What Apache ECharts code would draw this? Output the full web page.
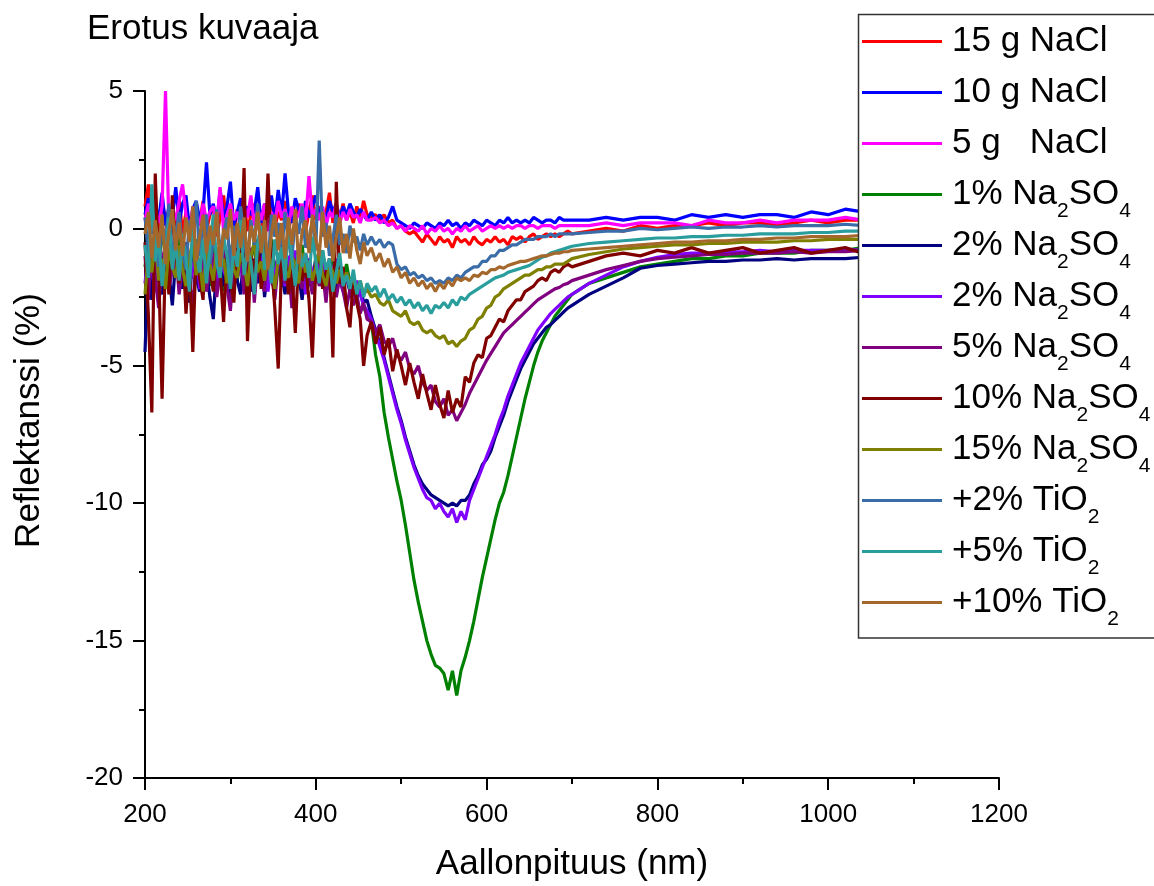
<!DOCTYPE html>
<html>
<head>
<meta charset="utf-8">
<title>Erotus kuvaaja</title>
<script src="https://cdn.jsdelivr.net/npm/echarts@6/dist/echarts.min.js"></script>
<style>
  html, body { margin: 0; padding: 0; background: #fff; overflow: hidden; }
  #chart { width: 1154px; height: 886px; }
</style>
</head>
<body>
<div id="chart"></div>
<script>
// aallonpituus (nm) - tiheämpi näytteistys kohinaiselle alueelle
const wavelengths = [
  200,204,208,212,216,220,224,228,232,236,
  240,244,248,252,256,260,264,268,272,276,
  280,284,288,292,296,300,304,308,312,316,
  320,324,328,332,336,340,344,348,352,356,
  360,364,368,372,376,380,384,388,392,396,
  400,404,408,412,416,420,424,428,432,436,
  440,444,448,452,456,460,
  465,470,475,480,485,490,495,500,505,510,
  515,520,525,530,535,540,545,550,555,560,
  565,570,575,580,585,590,595,600,605,610,
  615,620,625,630,635,640,645,650,655,660,
  665,670,675,680,685,690,695,700,
  720,740,760,780,800,820,840,860,880,900,
  920,940,960,980,1000,1020,1040,1060,1080,1100
];

// reflektanssin erotus (%)
const nacl15 = [
  0.8,1.6,0.2,1.2,-0.3,0.9,0.4,-0.5,0.7,0.1,
  1.1,-0.2,0.6,0.3,-0.4,0.9,0.2,1.0,-0.1,0.5,
  0.8,-0.3,0.4,1.2,0.0,0.6,-0.2,0.7,0.3,1.0,
  -0.1,0.5,0.9,0.2,-0.3,0.8,0.4,1.1,0.0,0.6,
  0.3,1.0,-0.2,0.7,0.2,0.9,0.4,-0.1,0.6,1.2,
  0.3,0.8,0.1,0.6,1.3,0.2,0.7,0.4,0.9,0.3,
  0.6,0.2,0.8,0.4,1.0,0.5,
  0.4,0.5,0.3,0.5,0.2,0.3,0.0,0.1,-0.1,-0.2,
  -0.1,-0.3,-0.5,-0.2,-0.4,-0.6,-0.3,-0.5,-0.4,-0.7,
  -0.3,-0.5,-0.4,-0.6,-0.3,-0.5,-0.6,-0.4,-0.5,-0.3,
  -0.5,-0.4,-0.6,-0.3,-0.4,-0.3,-0.5,-0.3,-0.2,-0.4,
  -0.3,-0.2,-0.3,-0.2,-0.3,-0.2,-0.1,-0.2,
  -0.1,0.0,-0.1,0.1,0.0,0.1,0.1,0.2,0.1,0.2,
  0.2,0.1,0.2,0.3,0.2,0.3,0.3,0.2,0.3,0.3
];
const nacl10 = [
  0.5,1.1,-0.2,0.9,0.3,1.3,0.1,0.8,0.4,1.5,
  0.2,0.9,1.2,0.0,0.7,1.0,0.3,0.6,2.4,0.5,
  0.9,0.2,1.4,0.4,0.8,1.7,0.1,0.6,1.1,0.3,
  0.8,0.5,0.6,1.5,0.2,0.9,0.4,1.2,0.3,1.4,
  0.5,2.0,0.6,0.2,1.1,0.7,0.3,1.0,0.4,0.8,
  1.2,0.5,0.7,0.3,1.0,0.6,0.9,0.4,0.8,0.5,
  0.9,0.6,0.4,0.7,0.5,0.3,
  0.6,0.3,0.5,0.2,0.4,0.8,0.3,0.2,0.1,0.0,
  0.2,0.1,0.0,0.2,0.1,0.0,0.2,0.1,0.3,0.1,
  0.2,0.0,0.2,0.1,0.3,0.2,0.1,0.3,0.2,0.1,
  0.3,0.2,0.4,0.2,0.3,0.2,0.3,0.2,0.4,0.3,
  0.2,0.3,0.3,0.2,0.4,0.3,0.3,0.3,
  0.3,0.4,0.3,0.4,0.4,0.3,0.5,0.4,0.5,0.4,
  0.5,0.5,0.4,0.6,0.5,0.7,0.6,0.6,0.7,0.6
];
const nacl5 = [
  0.3,0.9,-0.1,0.6,0.2,0.8,5.0,0.1,0.7,0.3,
  1.0,1.6,0.5,-0.2,0.8,0.4,0.1,0.9,0.3,0.6,
  0.8,0.2,1.5,-0.1,0.5,0.9,0.3,0.6,0.0,0.8,
  0.4,1.2,0.1,0.7,0.3,0.9,-0.1,0.6,0.2,1.0,
  0.4,0.7,0.1,0.8,0.3,0.5,0.9,0.2,1.9,0.4,
  0.7,0.3,0.8,0.1,0.6,0.4,0.9,0.2,0.6,0.3,
  0.7,0.4,0.5,0.2,0.6,0.3,
  0.3,0.4,0.2,0.3,0.1,0.2,0.0,0.1,-0.1,0.1,
  0.0,-0.1,0.1,-0.2,0.0,-0.1,0.1,-0.1,0.0,-0.2,
  0.0,-0.1,0.1,-0.1,0.0,0.1,-0.1,0.0,0.1,0.0,
  0.1,0.0,0.1,0.0,0.1,0.1,0.0,0.1,0.1,0.0,
  0.1,0.1,0.1,0.0,0.1,0.1,0.1,0.1,
  0.1,0.2,0.1,0.2,0.2,0.2,0.1,0.3,0.2,0.2,
  0.3,0.2,0.3,0.3,0.3,0.4,0.3,0.4,0.4,0.4
];
const sulfate1 = [
  -1.4,-0.3,-2.1,-0.8,-1.6,0.2,-1.2,-2.0,-0.6,-1.4,
  -0.2,-1.7,-0.9,-2.2,-1.0,-0.4,-1.8,-0.7,-1.3,-2.1,
  -0.5,-1.5,-1.0,-2.3,-0.8,-1.6,-0.3,-1.9,-1.1,-0.6,
  -2.0,-1.2,-0.5,-1.7,-0.9,-2.2,-1.1,-0.4,-1.6,-1.0,
  -2.1,-0.7,-1.4,-0.9,-2.0,-1.3,-0.6,-1.8,-1.1,-2.2,
  -1.0,-1.6,-0.8,-2.0,-1.4,-1.1,-2.3,-1.5,-1.9,-1.3,
  -2.0,-1.7,-2.6,-2.2,-2.9,-3.1,
  -3.4,-4.6,-5.4,-6.7,-7.6,-8.4,-9.2,-9.9,-10.8,-11.8,
  -12.8,-13.6,-14.3,-15.0,-15.5,-15.9,-16.0,-16.2,-16.8,-16.1,
  -17.0,-16.1,-15.6,-15.0,-14.3,-13.5,-12.7,-12.0,-11.3,-10.6,
  -10.0,-9.6,-9.0,-8.3,-7.6,-6.9,-6.2,-5.6,-5.0,-4.5,
  -4.1,-3.8,-3.5,-3.2,-3.0,-2.8,-2.6,-2.4,
  -2.0,-1.8,-1.6,-1.4,-1.3,-1.2,-1.1,-1.1,-1.0,-1.0,
  -0.9,-0.9,-0.9,-0.8,-0.8,-0.8,-0.7,-0.7,-0.7,-0.7
];
const sulfate2a = [
  -4.5,-1.2,-2.6,-0.7,-1.9,-2.4,-0.9,-1.6,-2.8,-1.1,
  -0.6,-2.2,-1.4,-2.7,-0.9,-1.8,-2.3,-1.0,-1.5,-2.5,
  -3.3,-1.2,-0.8,-2.1,-1.6,-2.6,-1.0,-1.9,-2.4,-0.7,
  -1.7,-2.3,-1.1,-2.0,-0.8,-2.5,-1.4,-1.9,-2.2,-1.0,
  -1.6,-2.4,-1.2,-0.9,-2.1,-1.7,-2.6,-1.3,-1.8,-2.3,
  -1.1,-2.0,-1.5,-2.4,-1.2,-1.9,-2.2,-1.6,-2.0,-1.8,
  -2.3,-1.9,-2.5,-2.1,-2.7,-2.6,
  -3.2,-3.7,-4.2,-4.7,-5.3,-5.9,-6.5,-7.0,-7.6,-8.1,
  -8.6,-9.0,-9.3,-9.5,-9.7,-9.8,-9.9,-10.0,-10.1,-10.0,
  -10.1,-9.9,-9.9,-9.7,-9.3,-9.0,-8.6,-8.4,-8.1,-7.6,
  -7.2,-6.8,-6.3,-5.9,-5.5,-5.1,-4.8,-4.5,-4.2,-4.0,
  -3.8,-3.6,-3.5,-3.35,-3.2,-3.05,-2.9,-2.8,
  -2.4,-2.1,-1.8,-1.45,-1.35,-1.3,-1.25,-1.2,-1.2,-1.15,
  -1.15,-1.1,-1.15,-1.1,-1.1,-1.1,-1.05,-1.05,-1.0,-1.0
];
const sulfate2b = [
  -2.0,-0.8,-1.5,-2.3,-0.5,-1.7,-1.1,-2.1,-0.7,-1.4,
  -1.9,-0.6,-1.2,-2.0,-1.5,-0.8,-2.2,-1.3,-0.9,-1.7,
  -1.1,-2.1,-0.7,-1.5,-1.9,-1.0,-0.5,-1.8,-1.3,-2.2,
  -0.9,-1.6,-2.0,-1.1,-1.4,-0.7,-2.3,-1.2,-1.8,-0.9,
  -1.5,-2.1,-1.0,-1.7,-0.8,-2.0,-1.3,-2.4,-1.1,-1.6,
  -2.0,-1.4,-0.9,-1.8,-2.2,-1.5,-1.1,-1.9,-2.3,-1.6,
  -2.1,-2.5,-1.9,-2.4,-2.8,-3.0,
  -3.3,-3.8,-4.3,-4.8,-5.4,-6.0,-6.6,-7.1,-7.7,-8.2,
  -8.7,-9.1,-9.5,-9.8,-9.9,-10.2,-10.0,-10.3,-10.5,-10.2,
  -10.7,-10.3,-10.6,-9.9,-9.5,-9.1,-8.7,-8.3,-7.9,-7.5,
  -7.0,-6.6,-6.1,-5.7,-5.3,-4.9,-4.6,-4.3,-4.0,-3.7,
  -3.5,-3.3,-3.1,-2.95,-2.8,-2.65,-2.5,-2.4,
  -2.0,-1.7,-1.4,-1.2,-1.05,-0.95,-0.9,-0.9,-0.85,-0.85,
  -0.8,-0.85,-0.8,-0.8,-0.8,-0.75,-0.8,-0.75,-0.75,-0.75
];
const sulfate5 = [
  -1.0,-2.6,-0.4,-1.8,-2.9,-1.2,-0.6,-2.2,-1.5,-0.8,
  -2.4,-1.3,-0.5,-2.0,-2.8,-1.1,-1.7,-0.7,-2.3,-1.4,
  -0.9,-2.5,-1.6,-0.6,-2.1,-3.0,-1.2,-1.8,-0.8,-2.4,
  -1.5,-0.7,-2.7,-1.1,-1.9,-2.3,-0.9,-1.6,-2.6,-1.3,
  -0.8,-2.0,-1.4,-2.9,-1.1,-1.7,-2.2,-0.9,-1.5,-2.4,
  -1.2,-2.1,-1.6,-2.7,-1.3,-2.0,-2.5,-1.8,-2.3,-2.9,
  -2.2,-2.8,-2.4,-3.1,-2.7,-3.3,
  -3.4,-3.8,-3.5,-4.1,-4.3,-4.0,-4.6,-4.8,-4.5,-5.1,
  -5.3,-5.0,-5.6,-5.9,-5.7,-6.3,-6.5,-6.2,-6.8,-6.6,
  -7.0,-6.7,-6.4,-6.0,-5.7,-5.4,-5.1,-4.8,-4.55,-4.3,
  -4.05,-3.8,-3.65,-3.5,-3.35,-3.2,-3.05,-2.9,-2.75,-2.6,
  -2.5,-2.4,-2.3,-2.2,-2.15,-2.05,-2.0,-1.9,
  -1.7,-1.5,-1.35,-1.2,-1.1,-1.05,-1.0,-0.95,-0.95,-0.9,
  -0.9,-0.9,-0.85,-0.9,-0.85,-0.85,-0.8,-0.85,-0.8,-0.8
];
const sulfate10 = [
  -0.5,-3.2,-6.7,2.0,-1.5,-6.2,-0.8,-2.4,1.2,-1.1,
  -2.0,-0.4,-3.1,-1.2,-4.5,-0.6,-1.8,-2.6,0.3,-1.4,
  -2.3,-0.7,-1.5,-3.4,-0.9,-1.9,-2.7,-0.5,-1.3,2.2,
  -4.1,-1.0,-1.6,-0.4,-2.2,-1.3,2.0,-1.1,-2.9,-5.1,
  -1.2,-0.6,-2.4,-1.5,-3.8,-0.9,-1.9,-1.3,-2.6,-4.7,
  -1.4,-0.8,-2.2,-1.6,-1.1,-4.7,1.7,-2.0,-1.4,-2.9,
  -3.6,-1.8,-2.7,-3.3,-5.0,-3.9,
  -3.4,-4.2,-3.6,-4.6,-4.0,-5.2,-4.4,-5.0,-5.7,-4.9,
  -5.6,-6.2,-5.3,-6.0,-6.6,-5.7,-6.4,-6.9,-5.9,-6.7,
  -6.2,-6.5,-5.4,-5.6,-4.9,-4.6,-4.7,-4.0,-3.9,-3.6,
  -3.3,-3.4,-3.0,-2.8,-2.6,-2.6,-2.3,-2.2,-2.1,-1.9,
  -1.8,-1.9,-1.6,-1.5,-1.6,-1.4,-1.3,-1.4,
  -1.2,-1.0,-0.9,-1.0,-0.8,-0.9,-0.7,-0.9,-0.8,-0.7,
  -0.9,-0.8,-0.7,-0.9,-0.8,-0.7,-0.9,-0.8,-0.8,-0.7
];
const sulfate15 = [
  -2.4,-0.9,-1.6,-0.4,-1.9,-1.1,-2.2,-0.7,-1.4,-1.8,
  -0.6,-1.5,-2.1,-1.0,-0.5,-1.7,-1.2,-2.3,-0.8,-1.3,
  -1.9,-0.7,-1.4,-1.1,-2.0,-0.6,-1.5,-1.8,-0.9,-1.3,
  -2.1,-1.0,-0.5,-1.6,-1.2,-1.9,-0.8,-1.4,-2.2,-1.1,
  -0.7,-1.5,-1.8,-1.0,-1.3,-2.0,-0.9,-1.6,-1.2,-1.9,
  -1.4,-0.8,-1.7,-2.1,-1.3,-1.6,-2.0,-1.5,-1.9,-1.6,
  -2.0,-1.8,-2.3,-1.9,-2.4,-2.2,
  -2.5,-2.4,-2.7,-2.8,-2.6,-3.0,-3.1,-3.2,-3.0,-3.4,
  -3.5,-3.4,-3.7,-3.8,-3.7,-3.9,-4.0,-3.9,-4.2,-4.1,
  -4.3,-4.1,-4.0,-3.7,-3.6,-3.3,-3.2,-2.9,-2.8,-2.5,
  -2.4,-2.2,-2.1,-2.0,-1.9,-1.8,-1.7,-1.7,-1.6,-1.5,
  -1.5,-1.4,-1.4,-1.3,-1.3,-1.3,-1.2,-1.1,
  -0.95,-0.85,-0.75,-0.7,-0.65,-0.6,-0.6,-0.55,-0.55,-0.5,
  -0.5,-0.5,-0.45,-0.45,-0.4,-0.4,-0.4,-0.4,-0.35,-0.35
];
const tio2_2 = [
  0.4,-0.9,0.8,-0.3,-1.4,0.2,-0.6,0.9,-1.1,-0.2,
  0.6,-0.8,-1.5,0.3,-0.4,1.0,-1.0,-0.1,0.5,-1.3,
  -0.5,0.7,-0.9,-0.2,0.4,-1.6,0.1,-0.7,0.8,-0.4,
  -1.2,0.3,-0.6,0.9,-0.8,-0.1,-1.4,0.5,-0.3,0.2,
  -0.9,0.6,-0.5,-1.1,0.4,-0.2,0.8,-0.7,-0.4,0.3,
  -0.8,3.2,-0.3,0.2,-1.0,-0.4,0.5,-0.6,-0.2,-0.9,
  0.1,-0.5,-0.3,-0.8,-0.2,-0.6,
  -0.3,-0.6,-0.4,-0.7,-0.5,-0.6,-1.3,-1.5,-1.4,-1.7,
  -1.6,-1.8,-1.7,-1.9,-1.8,-2.0,-1.9,-2.0,-1.8,-1.9,
  -1.7,-1.8,-1.6,-1.5,-1.4,-1.4,-1.2,-1.2,-1.0,-1.0,
  -0.8,-0.8,-0.7,-0.6,-0.6,-0.5,-0.4,-0.4,-0.4,-0.3,
  -0.3,-0.3,-0.2,-0.3,-0.2,-0.2,-0.2,-0.2,
  -0.15,-0.1,-0.1,0.0,-0.05,0.0,0.05,0.0,0.05,0.05,
  0.1,0.05,0.1,0.1,0.1,0.15,0.1,0.15,0.15,0.15
];
const tio2_5 = [
  -0.6,-1.8,1.6,-1.2,-0.3,-2.1,-0.8,0.4,-1.5,-0.5,
  -1.9,-0.2,-1.1,-2.3,0.2,-0.9,-1.6,-0.4,-2.0,-0.7,
  0.5,-1.3,-1.8,-0.3,-1.0,-2.2,-0.6,-1.4,0.3,-1.7,
  -0.8,-1.2,-2.4,-0.5,0.1,-1.5,-1.0,-2.0,-0.4,-1.3,
  -0.7,-1.9,0.2,-1.1,-2.1,-0.6,-1.4,-0.9,-1.8,-0.3,
  -1.2,-2.0,-0.8,-1.5,-1.1,-2.3,-1.6,-0.9,-2.1,-1.7,
  -2.2,-1.5,-2.4,-1.9,-2.5,-2.0,
  -2.3,-2.1,-2.5,-2.2,-2.6,-2.4,-2.7,-2.5,-2.8,-2.6,
  -2.9,-2.7,-3.0,-2.8,-3.1,-2.8,-2.9,-2.7,-2.9,-2.6,
  -2.8,-2.5,-2.6,-2.4,-2.3,-2.2,-2.1,-2.0,-1.9,-1.8,
  -1.75,-1.7,-1.6,-1.55,-1.5,-1.45,-1.4,-1.35,-1.25,-1.15,
  -1.05,-1.0,-0.9,-0.85,-0.8,-0.75,-0.7,-0.65,
  -0.55,-0.5,-0.45,-0.4,-0.35,-0.35,-0.3,-0.3,-0.25,-0.25,
  -0.2,-0.2,-0.2,-0.15,-0.15,-0.1,-0.1,-0.1,-0.1,-0.05
];
const tio2_10 = [
  -0.2,0.6,-1.1,0.3,-0.7,0.5,-1.3,-0.1,0.7,-0.8,
  0.2,-1.0,0.4,-0.5,0.8,-1.2,-0.3,0.5,-0.9,0.1,
  -0.6,0.6,-1.4,0.0,-0.4,0.7,-1.0,0.2,-0.7,0.4,
  -1.2,0.1,-0.5,0.6,-0.9,0.3,-1.5,-0.2,0.5,-0.8,
  0.2,-1.1,0.4,-0.6,0.7,-1.3,-0.1,0.3,-0.9,0.5,
  -0.4,-1.0,0.6,-0.7,0.1,-1.2,-0.3,0.4,-0.9,-0.2,
  -1.1,0.0,-0.8,-1.3,-0.5,-1.0,
  -0.7,-1.2,-0.9,-1.4,-1.1,-1.6,-1.4,-1.8,-1.6,-2.0,
  -1.8,-2.1,-1.9,-2.2,-2.0,-2.3,-2.0,-2.2,-1.9,-2.1,
  -1.8,-1.9,-1.8,-1.9,-1.7,-1.75,-1.6,-1.65,-1.5,-1.5,
  -1.4,-1.45,-1.35,-1.3,-1.25,-1.2,-1.2,-1.15,-1.1,-1.05,
  -1.0,-1.0,-0.95,-0.9,-0.9,-0.85,-0.85,-0.8,
  -0.75,-0.7,-0.65,-0.6,-0.55,-0.5,-0.5,-0.45,-0.45,-0.4,
  -0.4,-0.35,-0.35,-0.3,-0.3,-0.3,-0.25,-0.25,-0.25,-0.2
];

// selitteet, "_n" = alaindeksi
const seriesKeys = ['nacl15', 'nacl10', 'nacl5', 'so4_1', 'so4_2a', 'so4_2b', 'so4_5', 'so4_10', 'so4_15', 'tio2_2', 'tio2_5', 'tio2_10'];
const seriesLabels = ['15 g NaCl', '10 g NaCl', '5 g   NaCl', '1% Na_2SO_4', '2% Na_2SO_4', '2% Na_2SO_4', '5% Na_2SO_4', '10% Na_2SO_4', '15% Na_2SO_4', '+2% TiO_2', '+5% TiO_2', '+10% TiO_2'];
const seriesColors = ['#ff0000', '#0000ff', '#ff00ff', '#008000', '#000080', '#8000ff', '#800080', '#800000', '#808000', '#3a6ca8', '#2a9d9d', '#a5682c'];
const seriesValues = [nacl15, nacl10, nacl5, sulfate1, sulfate2a, sulfate2b, sulfate5, sulfate10, sulfate15, tio2_2, tio2_5, tio2_10];

const FONT = '"Liberation Sans", Arial, sans-serif';

// "1% Na_2SO_4" -> rich text; trailing sub-space keeps every row equally tall
function richLabel(text) {
  const parts = text.split(/_(\d)/);
  let out = '{f|' + parts[0] + '}';
  for (let i = 1; i < parts.length; i++) {
    if (parts[i] === '') continue;
    out += (i % 2 === 1 ? '{s|' : '{n|') + parts[i] + '}';
  }
  return out + '{s| }';
}

const myChart = echarts.init(document.getElementById('chart'));

const axisCommon = {
  axisLine: { onZero: false, lineStyle: { color: '#000', width: 2 } },
  axisTick: { length: 12, lineStyle: { color: '#000', width: 2 } },
  minorTick: { show: true, splitNumber: 2, length: 6, lineStyle: { color: '#000', width: 2 } },
  splitLine: { show: false },
  minorSplitLine: { show: false }
};

myChart.setOption({
  animation: false,
  title: {
    text: 'Erotus kuvaaja',
    left: 87,
    top: 12,
    padding: 0,
    textStyle: { fontSize: 35, fontWeight: 'normal', fontFamily: FONT, color: '#000' }
  },
  grid: {
    left: 145,
    right: 155,
    top: 91,
    bottom: 108,
    containLabel: false,
    outerBoundsMode: 'none'
  },
  legend: {
    type: 'plain',
    orient: 'vertical',
    left: 858,
    top: 14,
    width: 400,
    z: 6,
    padding: [10, 0, 6, 4],
    itemGap: 6,
    itemWidth: 80,
    itemHeight: 3,
    icon: 'rect',
    selectedMode: false,
    backgroundColor: 'transparent',
    borderColor: 'transparent',
    borderWidth: 0,
    data: seriesKeys,
    formatter: function (name) {
      return richLabel(seriesLabels[seriesKeys.indexOf(name)]);
    },
    textStyle: {
      rich: {
        f: { fontSize: 35, lineHeight: 55, fontFamily: FONT, color: '#000', padding: [0, 0, 0, 5] },
        n: { fontSize: 35, lineHeight: 55, fontFamily: FONT, color: '#000' },
        s: { fontSize: 21, lineHeight: 21, verticalAlign: 'bottom', fontFamily: FONT, color: '#000' }
      }
    }
  },
  // selitteen valkoinen pohja ja kolmen sivun kehys (oikea reuna jää kuvan ulkopuolelle)
  graphic: [{
    type: 'rect',
    z: 5,
    silent: true,
    shape: { x: 858.5, y: 14.5, width: 500, height: 623.5 },
    style: { fill: '#fff', lineWidth: 0 }
  }, {
    type: 'polyline',
    z: 5,
    silent: true,
    shape: { points: [[1400, 14.5], [858.5, 14.5], [858.5, 638], [1400, 638]] },
    style: { fill: null, stroke: '#333', lineWidth: 1.5 }
  }],
  xAxis: Object.assign({
    type: 'value',
    min: 200,
    max: 1200,
    interval: 200,
    name: 'Aallonpituus (nm)',
    nameLocation: 'middle',
    nameGap: 69,
    nameTextStyle: { fontSize: 35, fontFamily: FONT, color: '#000' },
    axisLabel: {
      fontSize: 26, fontFamily: FONT, color: '#000', margin: 24,
      formatter: function (v) { return String(v); }
    }
  }, axisCommon),
  yAxis: Object.assign({
    type: 'value',
    min: -20,
    max: 5,
    interval: 5,
    name: 'Reflektanssi (%)',
    nameLocation: 'middle',
    nameGap: 98,
    nameTextStyle: { fontSize: 35, fontFamily: FONT, color: '#000', padding: [0, 0, 0, 28] },
    axisLabel: {
      fontSize: 26, fontFamily: FONT, color: '#000', margin: 22,
      formatter: function (v) { return String(v); }
    }
  }, axisCommon),
  series: seriesValues.map(function (vals, i) {
    return {
      name: seriesKeys[i],
      type: 'line',
      data: wavelengths.map(function (x, j) { return [x, vals[j]]; }),
      symbol: 'none',
      showSymbol: false,
      color: seriesColors[i],
      lineStyle: { width: 3.2, color: seriesColors[i] },
      silent: true,
      emphasis: { disabled: true }
    };
  })
});
</script>
</body>
</html>
